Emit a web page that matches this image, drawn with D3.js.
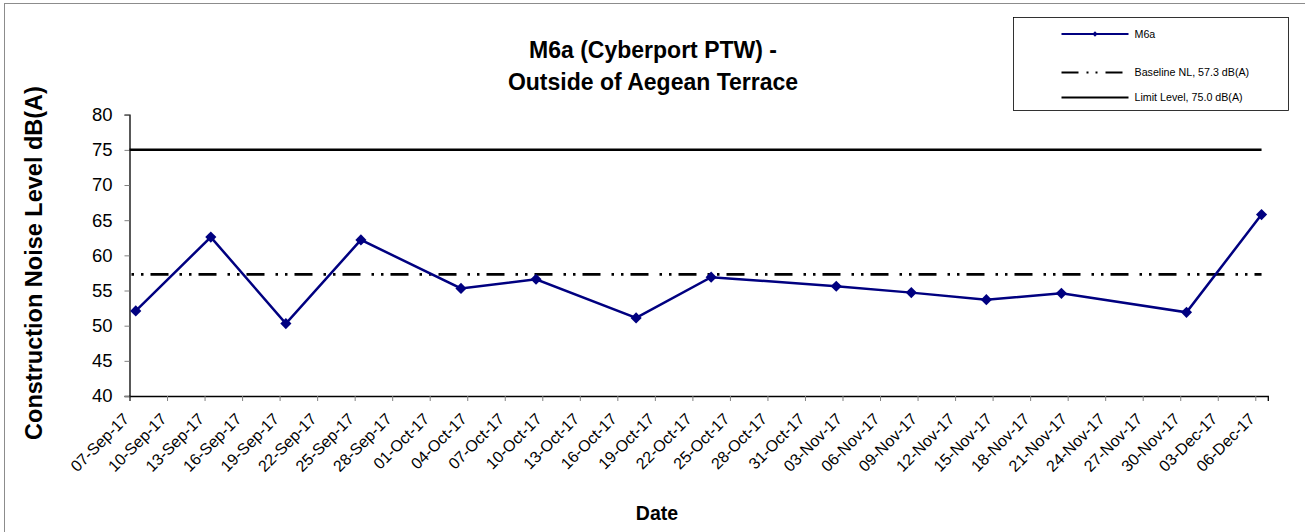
<!DOCTYPE html>
<html>
<head>
<meta charset="utf-8">
<script src="https://cdn.jsdelivr.net/npm/d3@7"></script>
<style>
	body { margin: 0; background: #fff; }
	svg { display: block; font-family: Arial, "Liberation Sans", sans-serif; }
</style>
</head>
<body>
<svg id="chart" width="1305" height="532"></svg>
<script>
// measurement dates and levels for M6a
const dates = ["2017-09-07", "2017-09-13", "2017-09-19", "2017-09-25", "2017-10-03", "2017-10-09", "2017-10-17",
	"2017-10-23", "2017-11-02", "2017-11-08", "2017-11-14", "2017-11-20", "2017-11-30", "2017-12-06"];
const levels = [52.1, 62.6, 50.3, 62.2, 55.3, 56.6, 51.1, 56.9, 55.6, 54.7, 53.7, 54.6, 51.9, 65.8];

const baselineNL = 57.3;
const limitLevel = 75.0;

const titleLines = ["M6a (Cyberport PTW) -", "Outside of Aegean Terrace"];
const legendLabels = ["M6a", "Baseline NL, 57.3 dB(A)", "Limit Level, 75.0 dB(A)"];

const parseDate = d3.utcParse("%Y-%m-%d");
const formatTick = d3.utcFormat("%d-%b-%y");

const axisStart = parseDate("2017-09-07");
const axisEnd = parseDate("2017-12-07");

// points sit in the middle of their day (Excel date axis)
const data = dates.map((d, i) => ({ date: d3.utcHour.offset(parseDate(d), 12), value: levels[i] }));

const svg = d3.select("#chart");

// outer chart border
svg.append("rect")
	.attr("x", 4.5).attr("y", 3.5)
	.attr("width", 1310).attr("height", 540)
	.attr("fill", "none")
	.attr("stroke", "#8c8c8c");

var x = d3.scaleUtc().domain([axisStart, axisEnd]).range([129.5, 1267.8]);
var y = d3.scaleLinear().domain([40, 80]).range([396, 114.7]);

// axes
var xTicks = d3.utcDay.range(axisStart, axisEnd, 3);

var gx = svg.append("g")
	.attr("transform", "translate(0,396)")
	.call(d3.axisBottom(x).tickValues(xTicks).tickSize(5).tickFormat(""));
gx.select(".domain").attr("stroke", "#000").attr("stroke-width", 1.3);
gx.selectAll(".tick line").attr("stroke", "#808080");

svg.append("g").selectAll("text")
	.data(xTicks)
	.join("text")
	.attr("transform", d => "translate(" + (x(d) + 0.5) + ",420) rotate(-45)")
	.attr("text-anchor", "end")
	.attr("font-size", 16)
	.attr("fill", "#000")
	.text(d => formatTick(d));

var gy = svg.append("g")
	.attr("transform", "translate(129.5,0)")
	.call(d3.axisLeft(y).tickValues(d3.range(40, 81, 5)).tickSize(5).tickPadding(12));
gy.select(".domain").attr("stroke", "#000").attr("stroke-width", 1.3);
gy.selectAll(".tick line").attr("stroke", "#808080");
gy.selectAll(".tick text")
	.attr("font-size", 18.5)
	.attr("font-family", "Arial, 'Liberation Sans', sans-serif")
	.attr("fill", "#000");

// reference lines
var lastX = x(data[data.length - 1].date);

svg.append("line")
	.attr("x1", x(axisStart)).attr("x2", lastX)
	.attr("y1", y(limitLevel)).attr("y2", y(limitLevel))
	.attr("stroke", "#000")
	.attr("stroke-width", 2.5);

svg.append("line")
	.attr("x1", x(axisStart) + 2).attr("x2", lastX)
	.attr("y1", y(baselineNL)).attr("y2", y(baselineNL))
	.attr("stroke", "#000")
	.attr("stroke-width", 2.6)
	.attr("stroke-dasharray", "2.5,7,2.5,7,18,11");

// data series
var line = d3.line()
	.x(d => x(d.date))
	.y(d => y(d.value));

svg.append("path")
	.datum(data)
	.attr("d", line)
	.attr("fill", "none")
	.attr("stroke", "#000080")
	.attr("stroke-width", 2.5);

var diamond = d3.symbol().type(d3.symbolSquare).size(62);

svg.append("g").selectAll("path")
	.data(data)
	.join("path")
	.attr("transform", d => "translate(" + x(d.date) + "," + y(d.value) + ") rotate(45)")
	.attr("d", diamond)
	.attr("fill", "#000080");

// titles
svg.append("text")
	.attr("x", 653).attr("y", 58)
	.attr("text-anchor", "middle")
	.attr("font-size", 23)
	.attr("font-weight", "bold")
	.selectAll("tspan")
	.data(titleLines)
	.join("tspan")
	.attr("x", 653)
	.attr("dy", (d, i) => i ? 32 : 0)
	.text(d => d);

svg.append("text")
	.attr("transform", "translate(42,263) rotate(-90)")
	.attr("text-anchor", "middle")
	.attr("font-size", 23.5)
	.attr("font-weight", "bold")
	.text("Construction Noise Level dB(A)");

svg.append("text")
	.attr("x", 657).attr("y", 520)
	.attr("text-anchor", "middle")
	.attr("font-size", 19.5)
	.attr("font-weight", "bold")
	.text("Date");

// legend
var legend = svg.append("g").attr("transform", "translate(1013.5,17.5)");
legend.append("rect")
	.attr("width", 275).attr("height", 93)
	.attr("fill", "#fff")
	.attr("stroke", "#000")
	.attr("stroke-width", 0.8);

var rowY = [16.5, 55, 80];
var rows = legend.selectAll("g.row")
	.data(legendLabels)
	.join("g")
	.attr("class", "row")
	.attr("transform", (d, i) => "translate(0," + rowY[i] + ")");

rows.append("line")
	.attr("x1", 48).attr("x2", 115)
	.attr("stroke", (d, i) => i === 0 ? "#000080" : "#000")
	.attr("stroke-width", (d, i) => i === 0 ? 1.8 : 2)
	.attr("stroke-dasharray", (d, i) => i === 1 ? "17,8,2,7,2,8" : null);

rows.filter((d, i) => i === 0).append("path")
	.attr("transform", "translate(81.5,0) rotate(45)")
	.attr("d", d3.symbol().type(d3.symbolSquare).size(14))
	.attr("fill", "#000080");

rows.append("text")
	.attr("x", 121).attr("y", 3.8)
	.attr("font-size", 10.7)
	.attr("fill", "#000")
	.text(d => d);
</script>
</body>
</html>
